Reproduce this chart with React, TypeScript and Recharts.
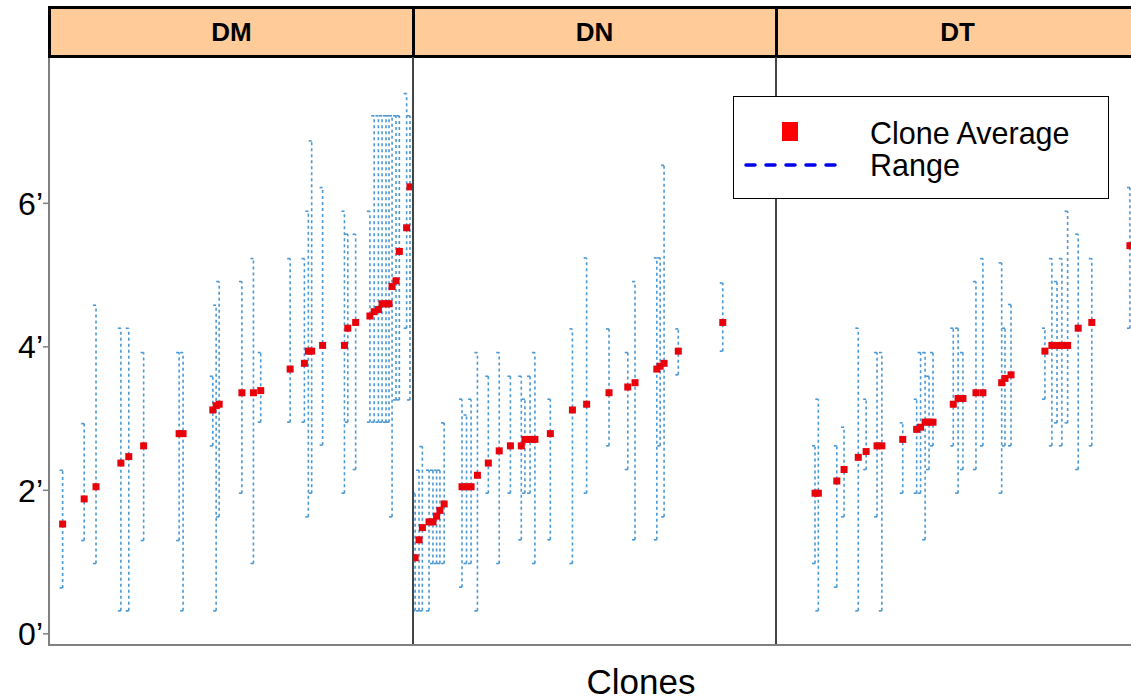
import React from 'react';
import { ScatterChart, Scatter, XAxis, YAxis, ErrorBar } from 'recharts';

const panelNames = ['DM', 'DN', 'DT'];

// DM panel: clone position (rank), average, range low, range high (feet)
const dmPos = [4.5, 11.6, 15.5, 23.7, 26.3, 31.2, 42.9, 44.2, 54.0, 55.1, 56.1, 63.6, 67.4, 69.8, 79.5, 84.2, 85.5, 86.6, 90.2, 97.4, 98.5, 101.1, 105.8, 107.2, 108.6, 109.8, 111.1, 112.1, 113.1, 114.4, 115.5, 117.9, 119.0];
const dmAvg = [1.53, 1.88, 2.05, 2.38, 2.47, 2.62, 2.79, 2.79, 3.12, 3.18, 3.2, 3.36, 3.36, 3.39, 3.69, 3.77, 3.94, 3.94, 4.02, 4.02, 4.26, 4.34, 4.43, 4.49, 4.52, 4.6, 4.6, 4.6, 4.84, 4.92, 5.33, 5.66, 6.23];
const dmLow = [0.64, 1.3, 0.98, 0.32, 0.32, 1.3, 1.3, 0.32, 2.62, 0.32, 1.63, 1.96, 0.98, 2.95, 2.95, 2.95, 1.63, 1.96, 2.63, 1.96, 2.95, 2.29, 2.95, 2.95, 2.95, 2.95, 2.95, 2.95, 1.63, 3.26, 3.26, 4.26, 3.26];
const dmHigh = [2.28, 2.93, 4.58, 4.26, 4.26, 3.92, 3.92, 3.92, 3.59, 4.58, 4.91, 4.91, 5.23, 3.92, 5.23, 5.23, 5.89, 6.87, 6.22, 5.89, 5.57, 5.57, 5.89, 7.22, 7.22, 7.22, 7.22, 7.22, 7.22, 7.22, 7.22, 7.53, 7.22];

// DN panel
const dnPos = [0.7, 2.0, 3.1, 5.3, 6.6, 7.8, 8.9, 10.3, 16.2, 17.7, 19.2, 21.3, 24.9, 28.5, 32.2, 35.8, 37.0, 38.7, 40.3, 45.4, 52.7, 57.4, 64.8, 71.0, 73.4, 80.6, 81.7, 83.0, 87.7, 102.4];
const dnAvg = [1.06, 1.31, 1.48, 1.56, 1.56, 1.64, 1.72, 1.81, 2.05, 2.05, 2.05, 2.21, 2.38, 2.55, 2.62, 2.62, 2.71, 2.71, 2.71, 2.79, 3.12, 3.2, 3.36, 3.44, 3.5, 3.69, 3.73, 3.77, 3.94, 4.34];
const dnLow = [0.32, 0.32, 0.32, 0.32, 0.98, 0.98, 0.98, 0.98, 0.65, 0.98, 0.98, 0.32, 1.96, 0.98, 1.96, 1.31, 1.96, 1.96, 0.98, 1.31, 0.98, 1.96, 2.62, 2.29, 1.31, 1.31, 2.62, 1.63, 3.61, 3.94];
const dnHigh = [1.96, 2.28, 2.61, 2.28, 2.28, 2.28, 2.28, 2.94, 3.27, 3.05, 3.27, 3.92, 3.59, 3.92, 3.59, 3.59, 3.27, 3.59, 3.92, 3.27, 4.25, 5.24, 4.25, 3.92, 4.91, 5.24, 5.24, 6.53, 4.25, 4.89];

// DT panel
const dtPos = [12.9, 14.0, 20.1, 22.5, 27.2, 29.8, 33.4, 35.0, 41.9, 46.5, 47.8, 49.3, 50.6, 51.9, 58.6, 60.2, 61.8, 66.1, 68.4, 74.6, 75.7, 77.7, 88.9, 91.2, 92.9, 94.5, 96.4, 99.9, 104.4, 117.0];
const dtAvg = [1.96, 1.96, 2.13, 2.29, 2.46, 2.54, 2.62, 2.62, 2.71, 2.85, 2.88, 2.95, 2.95, 2.95, 3.2, 3.28, 3.28, 3.36, 3.36, 3.5, 3.56, 3.61, 3.94, 4.02, 4.02, 4.02, 4.02, 4.26, 4.34, 5.41];
const dtLow = [0.98, 0.32, 0.65, 1.63, 0.32, 2.29, 1.63, 0.32, 1.96, 1.96, 1.96, 1.31, 2.29, 2.62, 2.62, 1.96, 2.29, 2.29, 2.62, 1.96, 2.62, 2.62, 3.27, 2.62, 2.94, 2.62, 2.94, 2.29, 2.62, 4.26];
const dtHigh = [2.62, 3.27, 2.62, 2.88, 4.26, 3.27, 3.92, 3.92, 2.94, 3.27, 3.92, 3.92, 3.59, 3.92, 4.26, 4.26, 3.92, 4.91, 5.23, 5.17, 4.26, 4.59, 4.26, 5.23, 4.91, 5.23, 5.89, 5.57, 5.23, 6.22];

const yTicks = [0, 2, 4, 6];
const yTickLabels = ['0’', '2’', '4’', '6’'];
const legendLabels = ['Clone Average', 'Range'];
const xTitle = 'Clones';

const FONT = '"Liberation Sans", Arial, Helvetica, sans-serif';
const Y_DOMAIN: [number, number] = [-0.17, 8.04];
const X_DOMAIN: [number, number] = [0, 120];

function build(pos: number[], avg: number[], low: number[], high: number[]) {
  return pos.map((x, i) => ({
    x,
    avg: avg[i],
    err: [avg[i] - low[i], high[i] - avg[i]],
  }));
}

const panelData = [
  build(dmPos, dmAvg, dmLow, dmHigh),
  build(dnPos, dnAvg, dnLow, dnHigh),
  build(dtPos, dtAvg, dtLow, dtHigh),
];

const RedSquare = (props: any) => {
  const { cx, cy } = props;
  if (cx == null || cy == null) return null;
  return <rect x={cx - 3.5} y={cy - 3.5} width={7} height={7} fill="#e8000a" />;
};

const PLOT_TOP = 57;
const PLOT_H = 589;
const BOTTOM_PAD = 30;
const panelLeft = [0, 413, 776];
const panelWidth = [413, 363, 363];

function Panel({ idx }: { idx: number }) {
  const first = idx === 0;
  return (
    <div style={{ position: 'absolute', left: panelLeft[idx], top: PLOT_TOP }}>
      <ScatterChart
        width={panelWidth[idx]}
        height={PLOT_H + BOTTOM_PAD}
        margin={{ top: 0, right: 0, bottom: BOTTOM_PAD, left: 0 }}
      >
        <XAxis type="number" dataKey="x" domain={X_DOMAIN} hide allowDataOverflow />
        <YAxis
          type="number"
          dataKey="avg"
          domain={Y_DOMAIN}
          ticks={yTicks}
          allowDataOverflow
          hide={!first}
          width={49}
          tickSize={6}
          tickMargin={0}
          interval={0}
          tickFormatter={(v: number) => yTickLabels[yTicks.indexOf(v)] ?? ''}
          tick={{ fontSize: 32, fill: '#000', fontFamily: FONT }}
          axisLine={{ stroke: '#808080', strokeWidth: 2 }}
          tickLine={{ stroke: '#808080', strokeWidth: 1.5 }}
        />
        <Scatter
          data={panelData[idx]}
          dataKey="avg"
          shape={RedSquare}
          isAnimationActive={false}
        >
          <ErrorBar
            dataKey="err"
            direction="y"
            width={3}
            stroke="#4a98d4"
            strokeWidth={1.6}
            strokeDasharray="3 3"
            isAnimationActive={false}
          />
        </Scatter>
      </ScatterChart>
    </div>
  );
}

export default function App() {
  return (
    <div
      style={{
        position: 'absolute',
        left: 0,
        top: 0,
        width: 1131,
        height: 700,
        overflow: 'hidden',
        background: '#fff',
        fontFamily: FONT,
      }}
    >
      {[0, 1, 2].map((i) => (
        <Panel key={i} idx={i} />
      ))}

      {panelNames.map((name, i) => (
        <div
          key={name}
          style={{
            position: 'absolute',
            left: i === 0 ? 48 : panelLeft[i] - 1.5,
            top: 6,
            width: i === 0 ? 367 : 366,
            height: 52,
            boxSizing: 'border-box',
            border: '3px solid #000',
            background: '#ffcc99',
            display: 'flex',
            alignItems: 'center',
            justifyContent: 'center',
            fontWeight: 'bold',
            fontSize: 26,
            color: '#000',
          }}
        >
          {name}
        </div>
      ))}

      {/* panel frames */}
      <div style={{ position: 'absolute', left: 412, top: 57, width: 2, height: 589, background: '#444' }} />
      <div style={{ position: 'absolute', left: 775, top: 57, width: 2, height: 589, background: '#444' }} />
      <div style={{ position: 'absolute', left: 48, top: 644, width: 1100, height: 2, background: '#808080' }} />

      {/* legend */}
      <div
        style={{
          position: 'absolute',
          left: 733,
          top: 96,
          width: 376,
          height: 103,
          boxSizing: 'border-box',
          border: '1.5px solid #000',
          background: '#fff',
        }}
      >
        <svg width={130} height={100} style={{ position: 'absolute', left: 0, top: 0 }}>
          <rect x={48} y={25} width={16} height={19} fill="#ff0000" />
          <line x1={12} y1={68} x2={102} y2={68} stroke="#0000ee" strokeWidth={3.5} strokeDasharray="9 11" strokeLinecap="round" />
        </svg>
        <div style={{ position: 'absolute', left: 136, top: 20, fontSize: 30.5, lineHeight: '32px', color: '#000' }}>
          {legendLabels[0]}
          <br />
          {legendLabels[1]}
        </div>
      </div>

      <div
        style={{
          position: 'absolute',
          left: 541,
          top: 664,
          width: 200,
          textAlign: 'center',
          fontSize: 35,
          lineHeight: '35px',
          color: '#000',
        }}
      >
        {xTitle}
      </div>
    </div>
  );
}
